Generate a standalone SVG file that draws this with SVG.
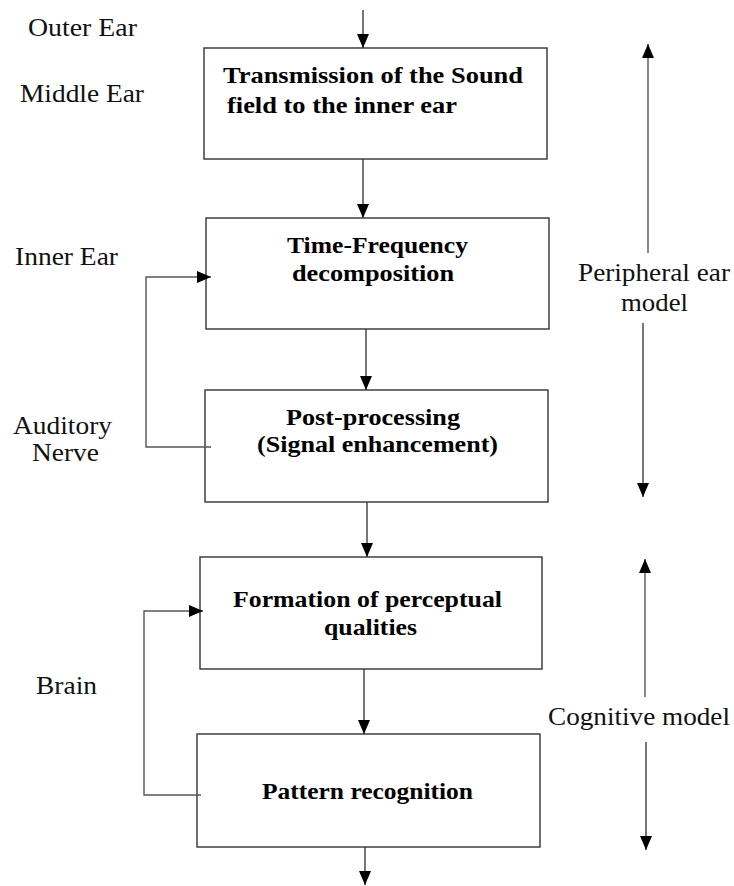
<svg xmlns="http://www.w3.org/2000/svg" width="734" height="886" viewBox="0 0 734 886">
  <style>
    .box { fill: #ffffff; stroke: #333333; stroke-width: 1.4; }
    .conn { fill: none; stroke: #3c3c3c; stroke-width: 1.4; }
    .fb { fill: none; stroke: #555555; stroke-width: 1.4; }
    .t { font-family: 'Liberation Serif', 'DejaVu Serif', serif; font-weight: 700; font-size: 23.5px; fill: #000000; }
    .lbl { font-family: 'Liberation Serif', 'DejaVu Serif', serif; font-weight: 400; font-size: 25px; fill: #111111; }
  </style>
  <defs>
    <marker id="head" markerUnits="userSpaceOnUse" markerWidth="16" markerHeight="12" refX="14" refY="6" orient="auto">
      <path d="M0,0 L14,6 L0,12 Z" fill="#000000"/>
    </marker>
  </defs>

  <rect width="734" height="886" fill="#ffffff"/>

  <!-- side labels -->
  <g id="labels">
    <text class="lbl" x="28" y="36" textLength="109" lengthAdjust="spacingAndGlyphs">Outer Ear</text>
    <text class="lbl" x="20" y="102" textLength="124" lengthAdjust="spacingAndGlyphs">Middle Ear</text>
    <text class="lbl" x="15" y="265" textLength="103" lengthAdjust="spacingAndGlyphs">Inner Ear</text>
    <text class="lbl" x="13" y="434" textLength="99" lengthAdjust="spacingAndGlyphs">Auditory</text>
    <text class="lbl" x="32" y="461" textLength="67" lengthAdjust="spacingAndGlyphs">Nerve</text>
    <text class="lbl" x="36" y="694" textLength="61" lengthAdjust="spacingAndGlyphs">Brain</text>
    <text class="lbl" x="578" y="281" textLength="152" lengthAdjust="spacingAndGlyphs">Peripheral ear</text>
    <text class="lbl" x="621" y="311" textLength="67" lengthAdjust="spacingAndGlyphs">model</text>
    <text class="lbl" x="548" y="725" textLength="182" lengthAdjust="spacingAndGlyphs">Cognitive model</text>
  </g>

  <!-- processing stages -->
  <g id="transmission">
    <rect class="box" x="204" y="48" width="343" height="111"/>
    <text class="t" x="223" y="83" textLength="300" lengthAdjust="spacingAndGlyphs">Transmission of the Sound</text>
    <text class="t" x="227" y="113" textLength="230" lengthAdjust="spacingAndGlyphs">field to the inner ear</text>
  </g>
  <g id="time-frequency">
    <rect class="box" x="206" y="218" width="343" height="111"/>
    <text class="t" x="287" y="253" textLength="181" lengthAdjust="spacingAndGlyphs">Time-Frequency</text>
    <text class="t" x="292" y="281" textLength="162" lengthAdjust="spacingAndGlyphs">decomposition</text>
  </g>
  <g id="post-processing">
    <rect class="box" x="205" y="390" width="343" height="112"/>
    <text class="t" x="286" y="425" textLength="174" lengthAdjust="spacingAndGlyphs">Post-processing</text>
    <text class="t" x="257" y="452" textLength="241" lengthAdjust="spacingAndGlyphs">(Signal enhancement)</text>
  </g>
  <g id="perceptual-qualities">
    <rect class="box" x="200" y="557" width="342" height="112"/>
    <text class="t" x="233" y="607" textLength="269" lengthAdjust="spacingAndGlyphs">Formation of perceptual</text>
    <text class="t" x="324" y="635" textLength="93" lengthAdjust="spacingAndGlyphs">qualities</text>
  </g>
  <g id="pattern-recognition">
    <rect class="box" x="197" y="734" width="343" height="113"/>
    <text class="t" x="262" y="799" textLength="211" lengthAdjust="spacingAndGlyphs">Pattern recognition</text>
  </g>

  <!-- connectors -->
  <g id="connectors">
    <line class="conn" x1="363" y1="10" x2="363" y2="48" marker-end="url(#head)"/>
    <line class="conn" x1="363" y1="159" x2="363" y2="218" marker-end="url(#head)"/>
    <line class="conn" x1="366" y1="329" x2="366" y2="390" marker-end="url(#head)"/>
    <line class="conn" x1="367" y1="502" x2="367" y2="557" marker-end="url(#head)"/>
    <line class="conn" x1="364" y1="669" x2="364" y2="734" marker-end="url(#head)"/>
    <line class="conn" x1="365" y1="847" x2="365" y2="885" marker-end="url(#head)"/>

    <!-- feedback loops -->
    <path class="fb" d="M211,447 L146,447 L146,277 L211,277" marker-end="url(#head)"/>
    <path class="fb" d="M201,795 L144,795 L144,611 L203,611" marker-end="url(#head)"/>

    <!-- model extent arrows -->
    <line class="fb" x1="648" y1="253" x2="648" y2="44" marker-end="url(#head)"/>
    <line class="conn" x1="643" y1="323" x2="643" y2="497" marker-end="url(#head)"/>
    <line class="fb" x1="645" y1="697" x2="645" y2="559" marker-end="url(#head)"/>
    <line class="conn" x1="646" y1="742" x2="646" y2="850" marker-end="url(#head)"/>
  </g>
</svg>
